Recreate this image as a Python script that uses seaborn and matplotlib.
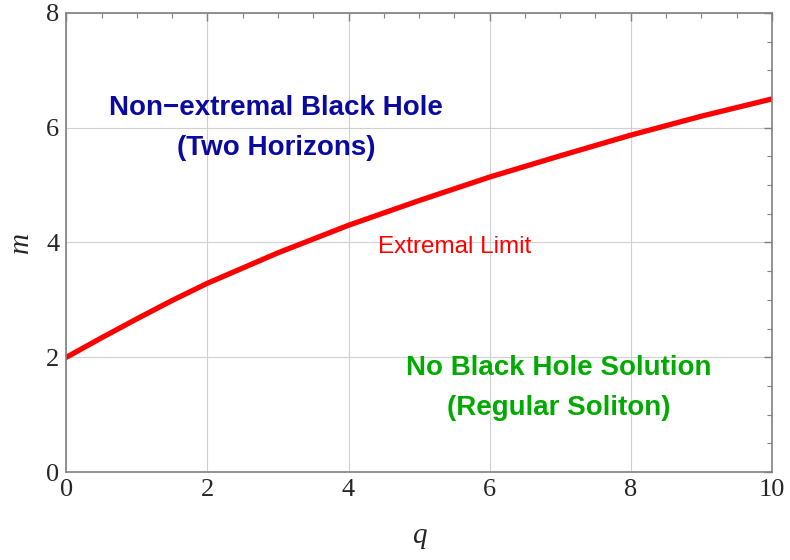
import matplotlib
matplotlib.use("Agg")
import matplotlib.pyplot as plt
import numpy as np
import pandas as pd
import seaborn as sb
from matplotlib.ticker import MultipleLocator

# extremal limit curve m(q)
q_vals = [0, 0.5, 1, 1.5, 2, 3, 4, 5, 6, 7, 8, 9, 10]
m_vals = [2.00, 2.34, 2.67, 2.99, 3.29, 3.82, 4.30, 4.73, 5.14, 5.51, 5.87, 6.20, 6.50]

sb.set_style("white")
plt.rcParams['font.family'] = ['Liberation Sans', 'DejaVu Sans']

df = pd.DataFrame({"q": q_vals, "m": m_vals})

fig, ax = plt.subplots(figsize=(7.9, 5.6), dpi=100)
fig.subplots_adjust(left=0.084, right=0.977, top=0.977, bottom=0.157)

sb.lineplot(data=df, x="q", y="m", color="#ff0000", linewidth=3.8, ax=ax)

ax.set_xlim(0, 10)
ax.set_ylim(0, 8)
ax.xaxis.set_major_locator(MultipleLocator(2))
ax.yaxis.set_major_locator(MultipleLocator(2))
ax.xaxis.set_minor_locator(MultipleLocator(0.5))
ax.yaxis.set_minor_locator(MultipleLocator(0.5))
ax.grid(True, which="major", color="#d0d0d0", linewidth=0.8)

for s in ax.spines.values():
    s.set_color("#808080")
    s.set_linewidth(1.2)
ax.tick_params(which="both", direction="in", top=True, right=True, color="#808080")
ax.tick_params(which="major", length=6, width=1.0)
ax.tick_params(which="minor", length=3.5, width=0.8)
ax.tick_params(which="major", labelsize=19, pad=5)
for lab in ax.get_xticklabels() + ax.get_yticklabels():
    lab.set_family("Liberation Serif")

ax.set_xlabel("q", fontsize=21, family="Liberation Serif", style="italic", labelpad=16)
ax.set_ylabel("m", fontsize=21, family="Liberation Serif", style="italic", labelpad=9)

ax.text(2.97, 6.0, "Non\u2212extremal Black Hole\n(Two Horizons)", color="#0a0aa0",
        fontsize=20, fontweight="bold", ha="center", va="center", linespacing=1.7)
ax.text(6.98, 1.47, "No Black Hole Solution\n(Regular Soliton)", color="#00aa00",
        fontsize=20, fontweight="bold", ha="center", va="center", linespacing=1.7)
ax.text(5.51, 3.92, "Extremal Limit", color="#ff0000", fontsize=17.5,
        ha="center", va="center")

fig.savefig("out.png", dpi=100)
